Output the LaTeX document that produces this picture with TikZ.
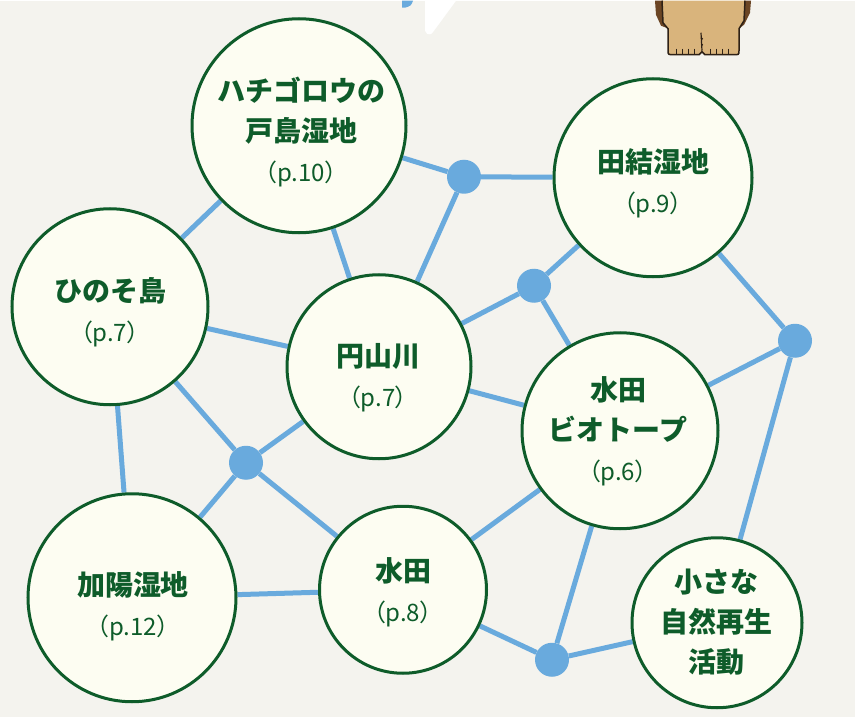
\documentclass[tikz,border=0pt]{standalone}
\usepackage{fontspec}
\newfontfamily\jpfont{Noto Sans CJK JP}
\newfontfamily\pagefont[RawFeature=+palt]{Noto Sans CJK JP}

\definecolor{paper}{HTML}{F4F3EE}
\definecolor{ivory}{HTML}{FDFDF2}
\definecolor{leaf}{HTML}{0E5C2A}
\definecolor{sky}{HTML}{69AADD}
\definecolor{fur}{HTML}{D9B47C}
\definecolor{furdark}{HTML}{6B4524}
\definecolor{inkbrown}{HTML}{2E2116}

\pgfdeclarelayer{paperlayer}
\pgfdeclarelayer{links}
\pgfsetlayers{paperlayer,links,main}

% page reference under a spot name
\newcommand\pg[1]{\\{\pagefont\mdseries\fontsize{24}{24}\selectfont （p.#1）}}

\begin{document}
\begin{tikzpicture}
[x=1pt,y=-1pt,
 spot/.style={circle,draw=leaf,line width=3pt,fill=ivory,inner sep=0pt},
 spotname/.style={text=leaf,align=center,inner sep=0pt,
   font=\jpfont\bfseries\fontsize{28}{40}\selectfont},
 hub/.style={circle,fill=sky,inner sep=0pt,minimum size=34pt},
 link/.style={sky,line width=5pt}]

\begin{pgfonlayer}{paperlayer}
\fill[paper] (0,0) rectangle (855,716);
\end{pgfonlayer}

% bits of the header art
\fill[sky] (402,0) -- (413,0) .. controls (411,5) .. (405,7) -- (402,7) -- cycle;
\fill[white] (425,0) -- (456,0) -- (434,30) .. controls (431,34) .. (427,33)
  -- (425,30) -- cycle;
\fill[furdark] (655,0) -- (663,0) -- (665,20) -- (669,28) -- (661,25)
  -- (656,14) -- cycle;
\fill[furdark] (744,0) -- (751,0) -- (750,12) -- (744,24) -- (740,27) -- cycle;
\filldraw[fill=fur,draw=inkbrown,line width=1.5pt]
  (662,0) -- (663,22) -- (668,28) -- (668,50) .. controls (668,54) .. (675,54)
  -- (699,54) -- (702,51) -- (705,54) -- (733,54) .. controls (739,54) .. (739,50)
  -- (739,28) -- (744,20) -- (745,0);
\draw[inkbrown,line width=1.2pt] (701,32) -- (702,50);
\fill[inkbrown] (702,38) circle (1.2pt) (702,44) circle (1.2pt);
\foreach \x in {676,682,688,694,710,716,722,728}
  \draw[inkbrown,line width=0.8pt] (\x,48) -- (\x,54);

% spots
\node[spot,minimum size=214pt] (hachi) at (299,125) {};
\node[spot,minimum size=198pt] (tayui) at (653,177) {};
\node[spot,minimum size=196pt] (hinoso) at (110,306) {};
\node[spot,minimum size=184pt] (enzan) at (379,366) {};
\node[spot,minimum size=196pt] (biotope) at (620,430) {};
\node[spot,minimum size=208pt] (kayo) at (132,597) {};
\node[spot,minimum size=167pt] (suiden) at (403,589) {};
\node[spot,minimum size=170pt] (chiisa) at (717,622) {};

\node[spotname] (hachi-t) at (301,131) {ハチゴロウの\\戸島湿地\pg{10}};
\node[spotname] (tayui-t) at (653,183) {田結湿地\pg{9}};
\node[spotname] (hinoso-t) at (110,311) {ひのそ島\pg{7}};
\node[spotname] (enzan-t) at (378,377) {円山川\pg{7}};
\node[spotname] (biotope-t) at (618,431) {水田\\ビオトープ\pg{6}};
\node[spotname] (kayo-t) at (133,606) {加陽湿地\pg{12}};
\node[spotname] (suiden-t) at (403,592) {水田\pg{8}};
\node[spotname] (chiisa-t) at (716,621) {小さな\\自然再生\\活動};

% junctions
\node[hub] (h1) at (464,176) {};
\node[hub] (h2) at (534,285) {};
\node[hub] (h3) at (246,462) {};
\node[hub] (h4) at (795,340) {};
\node[hub] (h5) at (552,659) {};

\begin{pgfonlayer}{links}
\draw[link] (hachi) -- (hinoso);
\draw[link] (hachi) -- (enzan);
\draw[link] (hachi) -- (h1) -- (tayui);
\draw[link] (h1) -- (enzan);
\draw[link] (tayui) -- (h2) -- (enzan);
\draw[link] (h2) -- (biotope);
\draw[link] (tayui) -- (h4) -- (biotope);
\draw[link] (h4) -- (chiisa);
\draw[link] (hinoso) -- (enzan);
\draw[link] (hinoso) -- (kayo);
\draw[link] (hinoso) -- (h3) -- (suiden);
\draw[link] (enzan) -- (h3) -- (kayo);
\draw[link] (enzan) -- (biotope);
\draw[link] (kayo) -- (suiden);
\draw[link] (suiden) -- (biotope);
\draw[link] (suiden) -- (h5) -- (chiisa);
\draw[link] (biotope) -- (h5);
\end{pgfonlayer}
\end{tikzpicture}
\end{document}
